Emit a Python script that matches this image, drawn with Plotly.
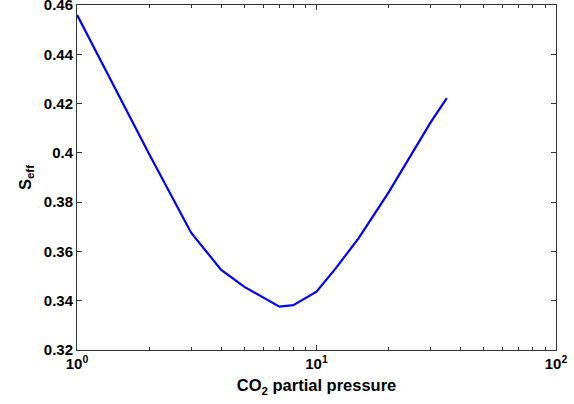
import plotly.graph_objects as go

pressure = [1, 2, 3, 4, 5, 6, 7, 8, 10, 12, 15, 20, 25, 30, 35]
s_eff = [0.456, 0.3995, 0.3675, 0.3525, 0.3456, 0.3411, 0.3376, 0.3382, 0.3437, 0.353, 0.3654, 0.384, 0.400, 0.4125, 0.4222]

x_ticks = [1, 10, 100]
x_ticktext = ["10<sup>0</sup>", "10<sup>1</sup>", "10<sup>2</sup>"]
x_minor = [2, 3, 4, 5, 6, 7, 8, 9, 20, 30, 40, 50, 60, 70, 80, 90]
y_ticks = [0.32, 0.34, 0.36, 0.38, 0.40, 0.42, 0.44, 0.46]
y_ticktext = ["0.32", "0.34", "0.36", "0.38", "0.4", "0.42", "0.44", "0.46"]

fig = go.Figure()
fig.add_trace(go.Scatter(x=pressure, y=s_eff, mode="lines",
                         line=dict(color="#0000ff", width=2.2)))
# invisible trace to activate mirrored top axis with minor ticks
fig.add_trace(go.Scatter(x=[pressure[0]], y=[s_eff[0]], xaxis="x2", mode="markers",
                         marker=dict(opacity=0), hoverinfo="skip"))

font = dict(family="Liberation Sans, Arial, sans-serif", size=15, color="black")
fig.update_layout(
    width=574, height=404,
    margin=dict(l=77, r=18, t=5, b=54),
    paper_bgcolor="white", plot_bgcolor="white",
    showlegend=False,
    font=font,
    xaxis=dict(
        type="log", range=[0, 2], automargin=False,
        tickvals=x_ticks, ticktext=[f"<b>{t}</b>" for t in x_ticktext],
        ticklabeloverflow="allow",
        ticks="inside", ticklen=5, tickcolor="#333",
        minor=dict(tickvals=x_minor, ticks="inside", ticklen=3, tickcolor="#333"),
        showline=True, linecolor="#333", linewidth=1, mirror=True,
        showgrid=False, zeroline=False,
        title=dict(text="<b>CO<sub>2</sub> partial pressure</b>", standoff=8, font=dict(size=16.5)),
    ),
    xaxis2=dict(
        type="log", range=[0, 2], overlaying="x", side="top", automargin=False,
        tickvals=x_ticks, showticklabels=False,
        ticks="inside", ticklen=5, tickcolor="#333",
        minor=dict(tickvals=x_minor, ticks="inside", ticklen=3, tickcolor="#333"),
        showline=False, showgrid=False, zeroline=False,
    ),
    yaxis=dict(
        range=[0.32, 0.46001], automargin=False,
        tickvals=y_ticks, ticktext=[f"<b>{t}</b>" for t in y_ticktext],
        ticklabeloverflow="allow",
        ticks="inside", ticklen=5, tickcolor="#333",
        showline=True, linecolor="#333", linewidth=1, mirror="ticks",
        showgrid=False, zeroline=False,
        title=dict(text="<b>S<sub>eff</sub></b>", standoff=8, font=dict(size=16.5)),
    ),
)
fig.write_html("out.html")
